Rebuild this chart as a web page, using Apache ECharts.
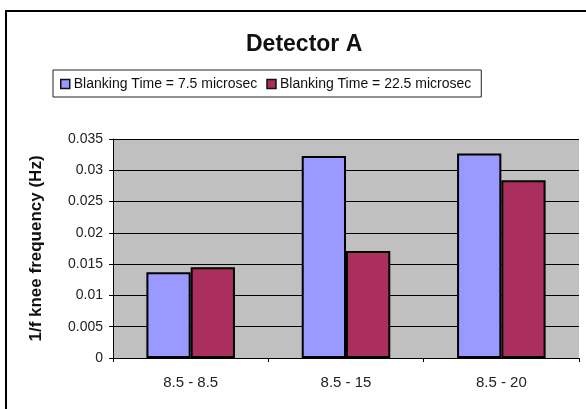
<!DOCTYPE html>
<html><head><meta charset="utf-8">
<script src="https://cdn.jsdelivr.net/npm/echarts@6/dist/echarts.min.js"></script>
<style>html,body{margin:0;padding:0;background:#fff}#c{width:586px;height:409px}</style>
</head><body><div id="c"></div>
<script>
var categories = ['8.5 - 8.5', '8.5 - 15', '8.5 - 20'];
var seriesNames = ['Blanking Time = 7.5 microsec', 'Blanking Time = 22.5 microsec'];
var blank75 = [0.0137, 0.0323, 0.0327];
var blank225 = [0.0145, 0.0171, 0.0284];
var yTicks = ['0', '0.005', '0.01', '0.015', '0.02', '0.025', '0.03', '0.035'];

var chart = echarts.init(document.getElementById('c'));
chart.setOption({
  animation: false,
  backgroundColor: '#ffffff',
  textStyle: {fontFamily: 'Liberation Sans, Arial, sans-serif'},
  graphic: [{type: 'rect', shape: {x: 6, y: 11, width: 620, height: 430},
    style: {fill: 'none', stroke: '#000', lineWidth: 2}, z: 100}],
  title: {text: 'Detector A', left: 241, top: 28,
    textStyle: {fontSize: 23, fontWeight: 'bold', color: '#111', fontFamily: 'Liberation Sans, Arial, sans-serif'}},
  legend: {left: 53, top: 70, padding: [7, 10, 6, 7], itemGap: 9,
    borderColor: '#222', borderWidth: 1,
    itemWidth: 9, itemHeight: 9, icon: 'rect',
    itemStyle: {borderColor: '#111', borderWidth: 1.5},
    textStyle: {fontSize: 14, color: '#111', padding: [0, 0, 0, -1]},
    data: seriesNames},
  grid: {left: 113, top: 139, right: 7, bottom: 51, show: true, backgroundColor: '#c0c0c0', borderWidth: 0},
  xAxis: {type: 'category', data: categories,
    axisLine: {lineStyle: {color: '#000', width: 1}},
    axisTick: {show: true, length: 4, lineStyle: {color: '#000'}},
    axisLabel: {fontSize: 15, color: '#222', margin: 17}},
  yAxis: {type: 'value', min: 0, max: 0.035, interval: 0.005,
    name: '1/f knee frequency (Hz)', nameLocation: 'middle', nameRotate: 90, nameGap: 68,
    nameTextStyle: {fontSize: 17, fontWeight: 'bold', color: '#111'},
    axisLine: {show: true, lineStyle: {color: '#000'}},
    axisTick: {show: true, length: 4, lineStyle: {color: '#000'}},
    splitLine: {lineStyle: {color: '#000', width: 1}},
    axisLabel: {fontSize: 14, color: '#222', margin: 10,
      formatter: function (v) { return yTicks[Math.round(v / 0.005)]; }}},
  series: [
    {name: seriesNames[0], type: 'bar', data: blank75, barGap: '0%', barCategoryGap: '43%',
      itemStyle: {color: '#9999ff', borderColor: '#000', borderWidth: 2}},
    {name: seriesNames[1], type: 'bar', data: blank225,
      itemStyle: {color: '#ab2f5e', borderColor: '#000', borderWidth: 2}}
  ]
});
</script></body></html>
